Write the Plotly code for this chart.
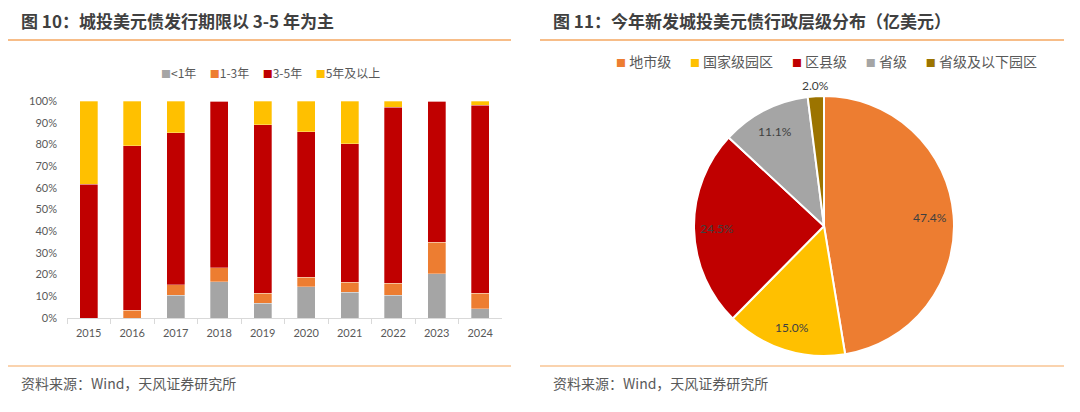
import math
import plotly.graph_objects as go

# ---------------- data ----------------
years = ['2015', '2016', '2017', '2018', '2019', '2020', '2021', '2022', '2023', '2024']
term_names = ['<1年', '1-3年', '3-5年', '5年及以上']
lt1 = [0.0, 0.0, 10.4, 16.7, 6.9, 14.5, 11.9, 10.4, 20.4, 4.3]
y1_3 = [0.0, 3.5, 4.9, 6.4, 4.4, 4.3, 4.6, 5.7, 14.4, 7.0]
y3_5 = [61.7, 75.8, 70.0, 76.9, 77.8, 67.0, 63.7, 81.0, 65.2, 86.7]
y5p = [38.3, 20.7, 14.7, 0.0, 10.9, 14.2, 19.8, 2.9, 0.0, 2.0]
y_ticks = [0, 10, 20, 30, 40, 50, 60, 70, 80, 90, 100]
y_tick_text = [f'{v}%' for v in y_ticks]

levels = ['地市级', '国家级园区', '区县级', '省级', '省级及以下园区']
shares = [47.4, 15.0, 24.5, 11.1, 2.0]

# ---------------- styles ----------------
term_colors = ['#A5A5A5', '#ED7D31', '#C00000', '#FFC000']
level_colors = ['#ED7D31', '#FFC000', '#C00000', '#A5A5A5', '#9C7400']
CJK = 'Noto Sans CJK SC'
TXT = '#595959'
W, H = 1080, 412
PIE_CX, PIE_CY, PIE_R = 824, 226, 130


def px_x(x):
    return x / W


def px_y(y):
    return 1 - y / H


fig = go.Figure()

for name, vals, col in zip(term_names, [lt1, y1_3, y3_5, y5p], term_colors):
    fig.add_trace(go.Bar(
        x=years, y=vals, name=name,
        marker=dict(color=col, line=dict(color='rgba(255,255,255,0.6)', width=0.5)),
        showlegend=False, hoverinfo='x+y+name'))

fig.add_trace(go.Pie(
    labels=levels, values=shares, sort=False, direction='clockwise', rotation=0,
    marker=dict(colors=level_colors, line=dict(color='white', width=2)),
    textinfo='none',
    domain=dict(x=[px_x(PIE_CX - PIE_R), px_x(PIE_CX + PIE_R)],
                y=[px_y(PIE_CY + PIE_R), px_y(PIE_CY - PIE_R)]),
    showlegend=False))

fig.update_layout(
    width=W, height=H, margin=dict(l=0, r=0, t=0, b=0, pad=0, autoexpand=False),
    paper_bgcolor='white', plot_bgcolor='white',
    barmode='stack', bargap=0.59, showlegend=False,
    font=dict(family='Lato', color=TXT, size=11),
    xaxis=dict(domain=[px_x(67), px_x(502)], type='category', showgrid=False,
               showline=True, linecolor='#D9D9D9', linewidth=1, automargin=False,
               ticks='outside', tickson='boundaries', tickcolor='#D9D9D9', ticklen=5,
               ticklabelstandoff=5,
               tickfont=dict(family='Lato', size=11, color=TXT)),
    yaxis=dict(domain=[px_y(318), px_y(101)], range=[0, 100], tickvals=y_ticks, automargin=False,
               ticktext=y_tick_text, showgrid=False, showline=False, zeroline=False,
               ticks='', ticklabelstandoff=9, tickfont=dict(family='Lato', size=11, color=TXT)),
)

# pie percentage labels, placed from the cumulative shares (Excel-like best fit)
total = sum(shares)
cum = 0.0
for i, s in enumerate(shares):
    mid = (cum + s / 2) / total * 2 * math.pi
    cum += s
    frac = s / total
    rho = PIE_R * (0.82 if frac > 0.05 else 1.085)
    lx = PIE_CX + rho * math.sin(mid)
    ly = PIE_CY - rho * math.cos(mid)
    fig.add_annotation(xref='paper', yref='paper', x=px_x(lx), y=px_y(ly), xanchor='center', yanchor='middle',
                       text=f'{frac * 100:.1f}%', showarrow=False,
                       font=dict(family='Lato', size=12, color='#404040'))

# header / footer rules
for x0, x1 in [(8, 511), (540, 1064)]:
    fig.add_shape(type='line', xref='paper', yref='paper', x0=px_x(x0), x1=px_x(x1),
                  y0=px_y(40), y1=px_y(40), line=dict(color='#F5A760', width=1.5))
    fig.add_shape(type='line', xref='paper', yref='paper', x0=px_x(x0), x1=px_x(x1),
                  y0=px_y(366), y1=px_y(366), line=dict(color='#FAD3AE', width=2))

titles = ['图 10：城投美元债发行期限以 3-5 年为主', '图 11：今年新发城投美元债行政层级分布（亿美元）']
for tx, t in zip([19, 551], titles):
    fig.add_annotation(xref='paper', yref='paper', x=px_x(tx), y=px_y(21), xanchor='left', yanchor='middle',
                       text=t, showarrow=False, font=dict(family=CJK, size=17, color='#404040', weight=600))
    fig.add_annotation(xref='paper', yref='paper', x=px_x(tx), y=px_y(383), xanchor='left', yanchor='middle',
                       text='资料来源：Wind，天风证券研究所', showarrow=False,
                       font=dict(family=CJK, size=14, color=TXT))

# legends built from series names / colours
gap = '&nbsp;' * 5
left_leg = gap.join(f"<span style='color:{c};font-size:10px'>■</span>{n}" for n, c in zip(term_names, term_colors))
fig.add_annotation(xref='paper', yref='paper', x=px_x(270), y=px_y(72), xanchor='center', yanchor='middle',
                   text=left_leg, showarrow=False, font=dict(family=CJK, size=12, color=TXT))
gap2 = '&nbsp;' * 6
right_leg = gap2.join(f"<span style='color:{c};font-size:10px'>■</span>&nbsp;{n}" for n, c in zip(levels, level_colors))
fig.add_annotation(xref='paper', yref='paper', x=px_x(826), y=px_y(61), xanchor='center', yanchor='middle',
                   text=right_leg, showarrow=False, font=dict(family=CJK, size=14, color=TXT))

fig.write_html('out.html', config={'displayModeBar': False},
               post_script="document.body.style.margin='0';document.body.style.overflow='hidden';")
